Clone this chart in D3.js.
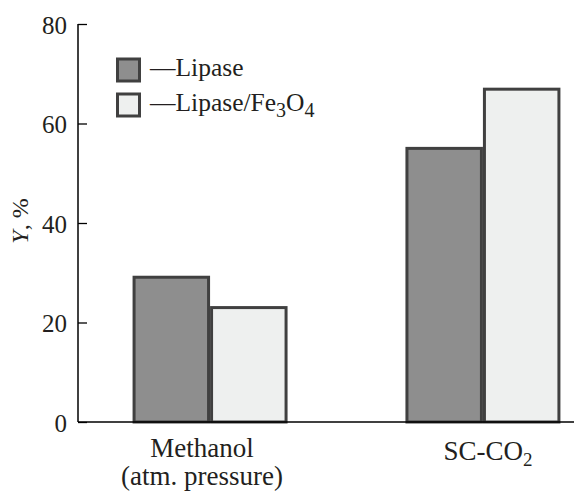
<!DOCTYPE html>
<html>
<head>
<meta charset="utf-8">
<script src="https://cdn.jsdelivr.net/npm/d3@7"></script>
<style>
  body { margin: 0; background: #fff; }
</style>
</head>
<body>
<div id="chart"></div>
<script>
// Size of the picture
let width = 574;
let height = 493;
let serif = "'Liberation Serif', 'Times New Roman', Times, 'DejaVu Serif', serif";

// Data
let categories = ["Methanol", "SC-CO2"];
let seriesNames = ["Lipase", "Lipase/Fe3O4"];
let lipase = [29.4, 55.3];
let lipaseFe = [23.3, 67.2];
let yTicks = [0, 20, 40, 60, 80];

let fills = ["#8e8e8e", "#eef0ef"];
let edge = "#404040";

// Plot area
let x0 = 78, yBottom = 422, yTop = 24;

let svg = d3.select('#chart')
  .append('svg')
  .attr('width', width)
  .attr('height', height)
  .style('font-family', serif);

// Scales, groups are wider than the svg on purpose (axis runs to the edge)
let x = d3.scaleBand()
  .domain(categories)
  .range([x0, 615])
  .paddingInner(0.432)
  .paddingOuter(0.2);

let xSub = d3.scaleBand()
  .domain(seriesNames)
  .range([0, x.bandwidth()])
  .padding(0);

let y = d3.scaleLinear()
  .domain([0, 80])
  .range([yBottom, yTop]);

let rows = categories.map(function(c, i) {
  return [{cat: c, s: seriesNames[0], v: lipase[i]}, {cat: c, s: seriesNames[1], v: lipaseFe[i]}];
});

// Bars
let groups = svg.append('g').selectAll('g')
  .data(rows)
  .enter()
  .append('g')
  .attr('transform', function(d) { return 'translate(' + x(d[0].cat) + ',0)'; });

groups.selectAll('rect')
  .data(function(d) { return d; })
  .enter()
  .append('rect')
  .attr('x', function(d) { return xSub(d.s) + 1.5; })
  .attr('width', xSub.bandwidth() - 3)
  .attr('y', function(d) { return y(d.v) + 1.5; })
  .attr('height', function(d) { return y(0) - y(d.v) - 1.5; })
  .attr('fill', function(d, i) { return fills[i]; })
  .attr('stroke', edge)
  .attr('stroke-width', 3);

// Y axis, ticks point inward
let yAxis = svg.append('g')
  .attr('transform', 'translate(' + x0 + ',0)')
  .call(d3.axisRight(y).tickValues(yTicks).tickSize(9).tickFormat(d3.format('d')))
  .attr('font-family', null)
  .attr('font-size', 25);
yAxis.select('.domain').remove();
yAxis.selectAll('line').attr('stroke', '#000').attr('stroke-width', 1.3);
yAxis.selectAll('text')
  .attr('x', -11)
  .attr('dy', '0.36em')
  .attr('text-anchor', 'end')
  .attr('fill', '#231f20');

svg.append('line')
  .attr('x1', x0).attr('x2', x0)
  .attr('y1', yTop).attr('y2', yBottom)
  .attr('stroke', '#000').attr('stroke-width', 1.5);

// Baseline
svg.append('line')
  .attr('x1', x0).attr('x2', width)
  .attr('y1', yBottom).attr('y2', yBottom)
  .attr('stroke', '#000').attr('stroke-width', 1.5);

// Category labels
let lab1x = x(categories[0]) + x.bandwidth() / 2 - 8;
svg.append('text')
  .attr('x', lab1x)
  .attr('y', 457)
  .attr('text-anchor', 'middle')
  .attr('font-size', 27)
  .attr('fill', '#231f20')
  .text('Methanol');
svg.append('text')
  .attr('x', lab1x)
  .attr('y', 485)
  .attr('text-anchor', 'middle')
  .attr('font-size', 27)
  .attr('fill', '#231f20')
  .text('(atm. pressure)');

let lab2 = svg.append('text')
  .attr('x', x(categories[1]) + x.bandwidth() / 2 + 5)
  .attr('y', 460)
  .attr('text-anchor', 'middle')
  .attr('font-size', 27)
  .attr('fill', '#231f20');
lab2.append('tspan').text('SC-CO');
lab2.append('tspan').attr('dy', 6).attr('font-size', 19).text('2');

// Y label
let yl = svg.append('text')
  .attr('transform', 'translate(28,221) rotate(-90)')
  .attr('text-anchor', 'middle')
  .attr('font-size', 24)
  .attr('fill', '#231f20');
yl.append('tspan').attr('font-style', 'italic').text('Y');
yl.append('tspan').text(', %');

// Legend
let legend = svg.append('g');
let legendRows = [70, 105];

legend.selectAll('rect')
  .data(seriesNames)
  .enter()
  .append('rect')
  .attr('x', 117.5)
  .attr('y', function(d, i) { return legendRows[i] - 11; })
  .attr('width', 22)
  .attr('height', 22)
  .attr('fill', function(d, i) { return fills[i]; })
  .attr('stroke', edge)
  .attr('stroke-width', 3);

legend.append('text')
  .attr('x', 150).attr('y', legendRows[0] + 6)
  .attr('font-size', 25.5)
  .attr('fill', '#231f20')
  .text('\u2014Lipase');

let lt = legend.append('text')
  .attr('x', 150).attr('y', legendRows[1] + 6)
  .attr('font-size', 25.5)
  .attr('fill', '#231f20');
lt.append('tspan').text('\u2014Lipase/Fe');
lt.append('tspan').attr('dy', 6).attr('font-size', 20).text('3');
lt.append('tspan').attr('dy', -6).text('O');
lt.append('tspan').attr('dy', 6).attr('font-size', 20).text('4');
</script>
</body>
</html>
